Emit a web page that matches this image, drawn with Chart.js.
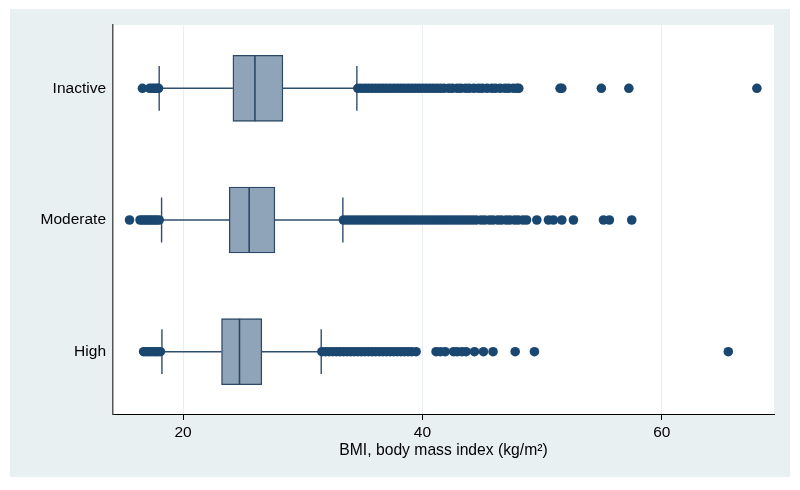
<!DOCTYPE html>
<html>
<head>
<meta charset="utf-8">
<script src="https://cdn.jsdelivr.net/npm/chart.js@4/dist/chart.umd.min.js"></script>
<style>
  html, body { margin: 0; padding: 0; background: #ffffff; }
  #wrap { width: 800px; height: 490px; }
</style>
</head>
<body>
<div id="wrap"><canvas id="c" width="800" height="490"></canvas></div>
<script>
// Categories (top to bottom) and their positions on the value axis
const categories = ['Inactive', 'Moderate', 'High'];
const catPos = [3, 2, 1];

// Box statistics
const q1       = [24.16, 23.85, 23.21];
const medians  = [26.00, 25.52, 24.71];
const q3       = [28.34, 27.67, 26.58];
const whiskLo  = [18.00, 18.20, 18.23];
const whiskHi  = [34.52, 33.35, 31.54];

// Outside values
const outInactive = [16.6, 17.2, 17.4, 17.6, 17.8, 17.95,
  34.6, 34.9, 35.2, 35.5, 35.8, 36.1, 36.4, 36.7, 37.0, 37.3, 37.6, 37.9, 38.2, 38.5,
  38.8, 39.1, 39.4, 39.7, 40.0, 40.3, 40.6, 40.9, 41.2, 41.5, 41.8, 42.2, 42.5, 42.9,
  43.2, 43.6, 43.9, 44.3, 44.7, 45.0, 45.4, 45.8, 46.1, 46.5, 46.9, 47.2, 47.6, 47.9,
  48.05, 51.5, 51.65, 54.95, 57.25, 67.95];
const outModerate = [15.52, 16.4, 16.6, 16.8, 17.0, 17.2, 17.4, 17.6, 17.8, 18.0,
  33.4, 33.7, 34.0, 34.3, 34.6, 34.9, 35.2, 35.5, 35.8, 36.1, 36.4, 36.7, 37.0, 37.3,
  37.6, 37.9, 38.2, 38.5, 38.8, 39.1, 39.4, 39.7, 40.0, 40.3, 40.6, 40.9, 41.2, 41.5,
  41.8, 42.1, 42.4, 42.7, 43.0, 43.3, 43.6, 43.9, 44.2, 44.5, 44.9, 45.2, 45.6, 45.9,
  46.3, 46.6, 47.0, 47.3, 47.7, 48.0, 48.4, 48.7, 49.56, 50.53, 50.95, 51.65, 52.62,
  55.13, 55.62, 57.49];
const outHigh = [16.7, 16.9, 17.1, 17.3, 17.5, 17.7, 17.9, 18.1,
  31.6, 31.9, 32.2, 32.5, 32.8, 33.1, 33.4, 33.7, 34.0, 34.3, 34.6, 34.9, 35.2, 35.5,
  35.8, 36.1, 36.4, 36.7, 37.0, 37.3, 37.6, 37.9, 38.2, 38.5, 38.8, 39.1, 39.47,
  41.14, 41.5, 41.9, 42.6, 42.9, 43.3, 43.65, 44.35, 45.1, 45.9, 47.75, 49.36, 65.56];
const outliers = [outInactive, outModerate, outHigh];

// X tick labels
const xTicks = [20, 40, 60];

const NAVY = '#1a476f';
const BOX_FILL = '#8fa3b9';
const BOX_EDGE = '#2b4866';
const CAP = 0.17;   // half-height of whisker caps, in category units
const HALF = 0.25;  // half-height of the box, in category units

// Box bars (floating)
const boxData = categories.map((c, i) => ({ x: [q1[i], q3[i]], y: catPos[i] }));

// Whiskers, caps and median lines (segments separated by gaps)
const whiskerData = [];
const medianData = [];
categories.forEach((c, i) => {
  const y = catPos[i];
  whiskerData.push({ x: whiskLo[i], y: y + CAP }, { x: whiskLo[i], y: y - CAP }, { x: null, y: null });
  whiskerData.push({ x: whiskLo[i], y: y }, { x: q1[i], y: y }, { x: null, y: null });
  whiskerData.push({ x: q3[i], y: y }, { x: whiskHi[i], y: y }, { x: null, y: null });
  whiskerData.push({ x: whiskHi[i], y: y + CAP }, { x: whiskHi[i], y: y - CAP }, { x: null, y: null });
  medianData.push({ x: medians[i], y: y + HALF }, { x: medians[i], y: y - HALF }, { x: null, y: null });
});

const outlierData = [];
outliers.forEach((arr, i) => arr.forEach(v => outlierData.push({ x: v, y: catPos[i] })));

const bgPlugin = {
  id: 'bg',
  beforeDraw(chart) {
    const ctx = chart.ctx;
    const a = chart.chartArea;
    ctx.save();
    ctx.fillStyle = '#ffffff';
    ctx.fillRect(0, 0, chart.width, chart.height);
    ctx.fillStyle = '#e9f0f2';
    ctx.fillRect(10, 9, 780, 468);
    ctx.fillStyle = '#ffffff';
    ctx.fillRect(a.left, a.top, a.right - a.left, a.bottom - a.top);
    ctx.restore();
  }
};

const FONT = 'Liberation Sans, Arial, sans-serif';

new Chart(document.getElementById('c'), {
  type: 'scatter',
  data: {
    datasets: [
      {
        type: 'scatter',
        indexAxis: 'x',
        data: outlierData,
        pointRadius: 4.8,
        pointHoverRadius: 4.8,
        pointBackgroundColor: NAVY,
        pointBorderColor: NAVY,
        pointBorderWidth: 0,
        order: 1
      },
      {
        type: 'scatter',
        indexAxis: 'x',
        data: medianData,
        showLine: true,
        spanGaps: false,
        borderColor: BOX_EDGE,
        borderWidth: 1.6,
        pointRadius: 0,
        order: 2
      },
      {
        type: 'bar',
        indexAxis: 'y',
        data: boxData,
        backgroundColor: BOX_FILL,
        borderColor: BOX_EDGE,
        borderWidth: 1.4,
        borderSkipped: false,
        barThickness: 66,
        order: 3
      },
      {
        type: 'scatter',
        indexAxis: 'x',
        data: whiskerData,
        showLine: true,
        spanGaps: false,
        borderColor: '#2f4f6e',
        borderWidth: 1.4,
        pointRadius: 0,
        order: 4
      }
    ]
  },
  options: {
    responsive: false,
    animation: false,
    events: [],
    layout: { padding: { left: 0, right: 26, top: 25, bottom: 30 } },
    plugins: {
      legend: { display: false },
      tooltip: { enabled: false }
    },
    scales: {
      x: {
        type: 'linear',
        position: 'bottom',
        offset: false,
        min: 14.14,
        max: 69.38,
        afterBuildTicks(scale) { scale.ticks = xTicks.map(v => ({ value: v })); },
        afterFit(scale) { scale.height = 46; },
        ticks: {
          color: '#000',
          font: { family: FONT, size: 15.5 },
          padding: 3
        },
        grid: {
          color: '#e9eef0',
          lineWidth: 1,
          tickColor: '#000',
          tickLength: 6,
          drawOnChartArea: true,
          offset: false
        },
        border: { color: '#000', width: 1 },
        title: {
          display: true,
          text: 'BMI, body mass index (kg/m²)',
          color: '#000',
          font: { family: FONT, size: 15.7 },
          padding: 0
        }
      },
      y: {
        type: 'linear',
        position: 'left',
        offset: false,
        min: 0.527,
        max: 3.4806,
        afterBuildTicks(scale) { scale.ticks = catPos.map(v => ({ value: v })); },
        afterFit(scale) { scale.width = 113; },
        ticks: {
          color: '#000',
          font: { family: FONT, size: 15.5 },
          padding: 7,
          callback(v) { const i = catPos.indexOf(v); return i >= 0 ? categories[i] : ''; }
        },
        grid: { display: false, drawTicks: false, offset: false },
        border: { color: '#555', width: 1.5 }
      }
    }
  },
  plugins: [bgPlugin]
});
</script>
</body>
</html>
